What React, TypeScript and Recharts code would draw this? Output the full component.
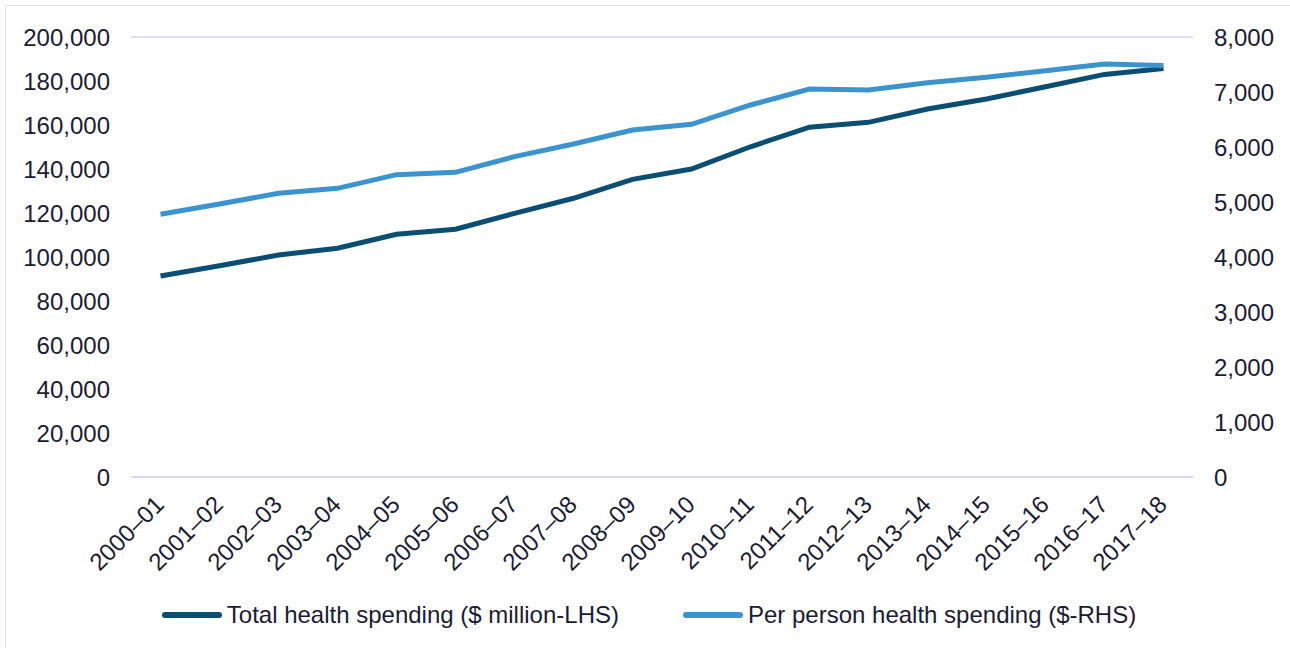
import React from "react";
import { LineChart, Line, XAxis, YAxis, CartesianGrid } from "recharts";

const years = [
  "2000–01", "2001–02", "2002–03", "2003–04", "2004–05", "2005–06",
  "2006–07", "2007–08", "2008–09", "2009–10", "2010–11", "2011–12",
  "2012–13", "2013–14", "2014–15", "2015–16", "2016–17", "2017–18",
];
const totalSpending = [
  91400, 96000, 100900, 104000, 110300, 112600, 119800, 126700, 135300,
  140000, 150100, 159000, 161200, 167300, 171800, 177400, 183000, 185700,
];
const perPersonSpending = [
  4776, 4964, 5158, 5248, 5497, 5539, 5824, 6054, 6309,
  6412, 6764, 7055, 7036, 7170, 7267, 7388, 7509, 7480,
];
const leftTicks = [0, 20000, 40000, 60000, 80000, 100000, 120000, 140000, 160000, 180000, 200000];
const rightTicks = [0, 1000, 2000, 3000, 4000, 5000, 6000, 7000, 8000];
const seriesNames = ["Total health spending ($ million-LHS)", "Per person health spending ($-RHS)"];
const seriesColors = ["#0a4e74", "#3b93d0"];

const data = years.map((y, i) => ({
  year: y,
  total: totalSpending[i],
  perPerson: perPersonSpending[i],
}));

const TEXT = "#1b1b34";
const FONT = "'Liberation Sans', Arial, sans-serif";
const fmt = (v: number) => v.toLocaleString("en-US");

const XTick = (props: any) => {
  const { x, y, payload } = props;
  const ax = x + 5;
  const ay = y + 29;
  return (
    <text
      x={ax}
      y={ay}
      transform={`rotate(-45, ${ax}, ${ay})`}
      textAnchor="end"
      fill={TEXT}
      fontSize={24}
      fontFamily={FONT}
    >
      {payload.value}
    </text>
  );
};

const LegendBlock = () => (
  <div
    style={{
      position: "absolute",
      left: 0,
      top: 601,
      width: 1290,
      display: "flex",
      justifyContent: "center",
      alignItems: "center",
      fontFamily: FONT,
      fontSize: 24,
      color: TEXT,
      gap: 64,
      paddingLeft: 8,
      boxSizing: "border-box",
    }}
  >
    {seriesNames.map((n, i) => (
      <div key={n} style={{ display: "flex", alignItems: "center" }}>
        <svg width={60} height={10} style={{ marginRight: 5 }}>
          <line x1={3} y1={5} x2={57} y2={5} stroke={seriesColors[i]} strokeWidth={6} strokeLinecap="round" />
        </svg>
        <span>{n}</span>
      </div>
    ))}
  </div>
);

export default function App() {
  return (
    <div style={{ position: "absolute", left: 0, top: 0, width: 1290, height: 648, background: "#fff", overflow: "hidden" }}>
      <div style={{ position: "absolute", left: 5, top: 5, width: 1300, height: 660, border: "1px solid #e2e2e2", boxSizing: "border-box" }} />
      <div style={{ position: "absolute", left: 0, top: 0 }}>
        <LineChart
          width={1290}
          height={648}
          data={data}
          margin={{ top: 37, right: 0, bottom: 0, left: 0 }}
        >
          <CartesianGrid vertical={false} stroke="#d7d3ef" strokeWidth={1.5} />
          <XAxis
            dataKey="year"
            tick={<XTick />}
            tickLine={false}
            axisLine={{ stroke: "#d7d3ef", strokeWidth: 1.5 }}
            tickSize={0}
            tickMargin={0}
            height={171}
            interval={0}
            padding={{ left: 29.5, right: 29.5 }}
          />
          <YAxis
            yAxisId="left"
            orientation="left"
            width={131}
            domain={[0, 200000]}
            ticks={leftTicks}
            tickFormatter={fmt}
            axisLine={false}
            tickLine={false}
            tickSize={0}
            tickMargin={21}
            tick={{ fill: TEXT, fontSize: 24, fontFamily: FONT }}
          />
          <YAxis
            yAxisId="right"
            orientation="right"
            width={97}
            domain={[0, 8000]}
            ticks={rightTicks}
            tickFormatter={fmt}
            axisLine={false}
            tickLine={false}
            tickSize={0}
            tickMargin={21}
            tick={{ fill: TEXT, fontSize: 24, fontFamily: FONT, textAnchor: "start" }}
          />
          <Line
            yAxisId="left"
            dataKey="total"
            name={seriesNames[0]}
            stroke={seriesColors[0]}
            strokeWidth={5}
            dot={false}
            isAnimationActive={false}
          />
          <Line
            yAxisId="right"
            dataKey="perPerson"
            name={seriesNames[1]}
            stroke={seriesColors[1]}
            strokeWidth={5}
            dot={false}
            isAnimationActive={false}
          />
        </LineChart>
      </div>
      <LegendBlock />
    </div>
  );
}
